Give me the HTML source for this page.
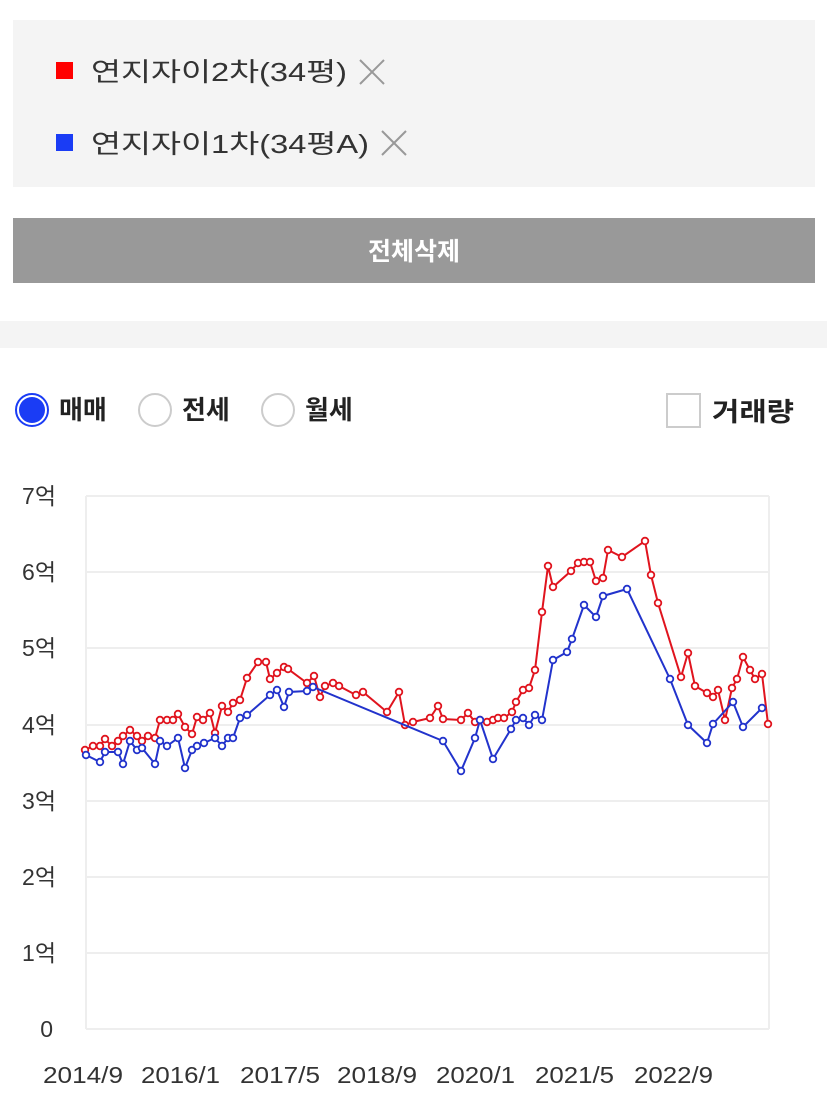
<!DOCTYPE html>
<html><head><meta charset="utf-8"><style>
html,body{margin:0;padding:0;background:#fff;width:827px;height:1096px;overflow:hidden}
svg text{font-family:"Liberation Sans","Noto Sans CJK KR",sans-serif}
</style></head><body>
<svg width="827" height="1096" viewBox="0 0 827 1096" xmlns="http://www.w3.org/2000/svg">
<defs>
<marker id="mr" markerUnits="userSpaceOnUse" markerWidth="10" markerHeight="10" refX="5" refY="5" viewBox="0 0 10 10"><circle cx="5" cy="5" r="3.3" fill="#fff" stroke="#e0141e" stroke-width="1.8"/></marker>
<marker id="mb" markerUnits="userSpaceOnUse" markerWidth="10" markerHeight="10" refX="5" refY="5" viewBox="0 0 10 10"><circle cx="5" cy="5" r="3.3" fill="#fff" stroke="#2233cc" stroke-width="1.8"/></marker>
</defs>
<rect x="13" y="20" width="802" height="167" fill="#f4f4f4"/>
<rect x="56" y="62" width="17" height="17" fill="#f00"/>
<text x="91" y="81" font-size="26" fill="#333" textLength="256" lengthAdjust="spacingAndGlyphs">연지자이2차(34평)</text>
<g stroke="#999" stroke-width="2"><line x1="360" y1="60" x2="384" y2="84"/><line x1="384" y1="60" x2="360" y2="84"/>
<line x1="382" y1="131" x2="406" y2="155"/><line x1="406" y1="131" x2="382" y2="155"/></g>
<rect x="56" y="134" width="17" height="17" fill="#1a3cf5"/>
<text x="91" y="153" font-size="26" fill="#333" textLength="278" lengthAdjust="spacingAndGlyphs">연지자이1차(34평A)</text>
<rect x="13" y="218" width="802" height="65" fill="#999"/>
<text x="414" y="260" font-size="25" font-weight="bold" fill="#fff" text-anchor="middle">전체삭제</text>
<rect x="0" y="321" width="827" height="27" fill="#f4f4f4"/>
<circle cx="32" cy="410" r="16" fill="#fff" stroke="#1a3cf5" stroke-width="2"/>
<circle cx="32" cy="410" r="13" fill="#1a3cf5"/>
<text x="59" y="419" font-size="26" font-weight="bold" fill="#222">매매</text>
<circle cx="155" cy="410" r="16" fill="#fff" stroke="#ccc" stroke-width="2"/>
<text x="182" y="419" font-size="26" font-weight="bold" fill="#222">전세</text>
<circle cx="278" cy="410" r="16" fill="#fff" stroke="#ccc" stroke-width="2"/>
<text x="305" y="419" font-size="26" font-weight="bold" fill="#222">월세</text>
<rect x="667" y="394" width="33" height="33" fill="#fff" stroke="#ccc" stroke-width="2"/>
<text x="712" y="421" font-size="26" font-weight="bold" fill="#222" textLength="82" lengthAdjust="spacingAndGlyphs">거래량</text>
<g stroke="#eee" stroke-width="2">
<line x1="86" y1="496" x2="769" y2="496"/><line x1="86" y1="572" x2="769" y2="572"/>
<line x1="86" y1="648" x2="769" y2="648"/><line x1="86" y1="725" x2="769" y2="725"/>
<line x1="86" y1="801" x2="769" y2="801"/><line x1="86" y1="877" x2="769" y2="877"/>
<line x1="86" y1="953" x2="769" y2="953"/><line x1="86" y1="1029" x2="769" y2="1029"/>
<line x1="86" y1="496" x2="86" y2="1029"/><line x1="769" y1="496" x2="769" y2="1029"/>
</g>
<g font-size="23" fill="#333" text-anchor="end">
<text x="56" y="504">7억</text><text x="56" y="580">6억</text><text x="56" y="656">5억</text>
<text x="56" y="733">4억</text><text x="56" y="809">3억</text><text x="56" y="885">2억</text>
<text x="56" y="961">1억</text><text x="53" y="1037">0</text>
</g>
<g font-size="23" fill="#333">
<text x="43" y="1083" textLength="80" lengthAdjust="spacingAndGlyphs">2014/9</text>
<text x="141" y="1083" textLength="79" lengthAdjust="spacingAndGlyphs">2016/1</text>
<text x="240" y="1083" textLength="80" lengthAdjust="spacingAndGlyphs">2017/5</text>
<text x="337" y="1083" textLength="80" lengthAdjust="spacingAndGlyphs">2018/9</text>
<text x="436" y="1083" textLength="79" lengthAdjust="spacingAndGlyphs">2020/1</text>
<text x="535" y="1083" textLength="79" lengthAdjust="spacingAndGlyphs">2021/5</text>
<text x="634" y="1083" textLength="79" lengthAdjust="spacingAndGlyphs">2022/9</text>
</g>
<polyline fill="none" stroke="#e0141e" stroke-width="2" marker-start="url(#mr)" marker-mid="url(#mr)" marker-end="url(#mr)" points="85,750 93,746 100,746 105,739 112,746 118,741 123,736 130,730 137,736 142,741 148,736 155,738 160,720 167,720 173,720 178,714 185,727 192,734 197,717 203,720 210,713 215,733 222,706 228,712 233,703 240,700 247,678 258,662 266,662 270,679 277,673 284,667 288,669 307,683 314,676 320,697 325,686 333,683 339,686 356,695 363,692 387,712 399,692 405,725 413,722 430,718 438,706 443,719 461,720 468,713 475,722 480,720 487,722 493,720 498,718 504,718 512,712 516,702 523,690 529,688 535,670 542,612 548,566 553,587 571,571 578,563 584,562 590,562 596,581 603,578 608,550 622,557 645,541 651,575 658,603 681,677 688,653 695,686 707,693 713,697 718,690 725,720 732,688 737,679 743,657 750,670 755,679 762,674 768,724"/>
<polyline fill="none" stroke="#2233cc" stroke-width="2" marker-start="url(#mb)" marker-mid="url(#mb)" marker-end="url(#mb)" points="86,755 100,762 105,752 118,752 123,764 130,741 137,750 142,748 155,764 160,741 167,746 178,738 185,768 192,750 197,746 204,743 215,738 222,746 228,738 233,738 240,718 247,715 270,695 277,690 284,707 289,692 307,691 313,687 443,741 461,771 475,738 480,720 493,759 511,729 516,720 523,718 529,725 535,715 542,720 553,660 567,652 572,639 584,605 596,617 603,596 627,589 670,679 688,725 707,743 713,724 733,702 743,727 762,708"/>
</svg>
</body></html>
